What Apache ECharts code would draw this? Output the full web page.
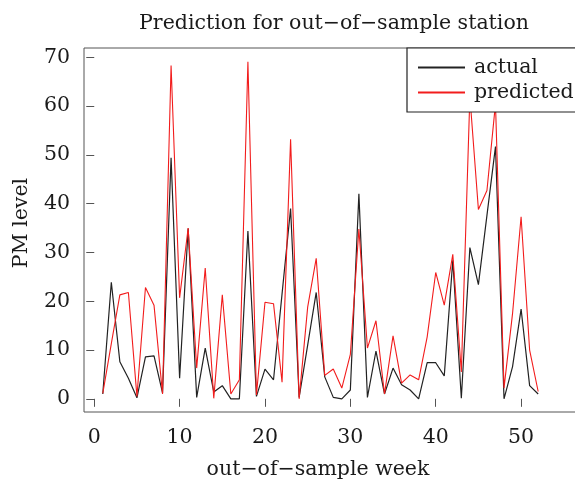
<!DOCTYPE html>
<html>
<head>
<meta charset="utf-8">
<script src="https://cdn.jsdelivr.net/npm/echarts@6/dist/echarts.min.js"></script>
<style>
  html, body { margin: 0; padding: 0; background: #fff; overflow: hidden; }
  /* wider than the window: the right side of the box and legend is cut off, as in the original */
  #chart { width: 620px; height: 483px; }
</style>
</head>
<body>
<div id="chart"></div>
<script>
// weeks of the out-of-sample year
var weeks = [1, 2, 3, 4, 5, 6, 7, 8, 9, 10, 11, 12, 13, 14, 15, 16, 17, 18, 19, 20,
  21, 22, 23, 24, 25, 26, 27, 28, 29, 30, 31, 32, 33, 34, 35, 36, 37, 38, 39, 40,
  41, 42, 43, 44, 45, 46, 47, 48, 49, 50, 51, 52];
var actual = [1.0, 23.9, 7.6, 4.2, 0.2, 8.6, 8.8, 1.2, 49.4, 4.2,
  34.9, 0.3, 10.4, 1.4, 2.7, 0, 0, 34.4, 0.5, 6.1,
  3.9, 21.5, 39.0, 0.3, 11.0, 21.8, 4.5, 0.3, 0, 1.8,
  42.0, 0.3, 9.8, 1.0, 6.3, 2.9, 1.8, 0, 7.4, 7.4,
  4.7, 28.4, 0.1, 31.0, 23.4, 37.6, 51.7, 0, 6.6, 18.4, 2.7, 1.0];
var predicted = [1.1, 11.3, 21.3, 21.8, 0.5, 22.8, 19.2, 1.0, 68.3, 20.7,
  35.0, 6.3, 26.8, 0.1, 21.3, 1.0, 3.9, 69.1, 0.8, 19.8,
  19.5, 3.4, 53.2, 0, 18.8, 28.8, 4.8, 6.1, 2.2, 9.1,
  34.8, 10.4, 16.0, 1.0, 12.9, 3.2, 4.9, 3.9, 12.7, 25.9,
  19.2, 29.6, 5.5, 62.0, 38.8, 42.7, 60.5, 2.2, 17.5, 37.3, 10.0, 1.5];
var xTicks = [0, 10, 20, 30, 40, 50];
var yTicks = [0, 10, 20, 30, 40, 50, 60, 70];

var font = 'DejaVu Serif';
var ink = '#1a1a1a';

function pairs(vals) {
  return weeks.map(function (w, i) { return [w, vals[i]]; });
}

var mychart = echarts.init(document.getElementById('chart'));
var option = {
  animation: false,
  backgroundColor: '#fff',
  grid: {
    left: 84, right: 40, top: 48, bottom: 71,
    show: true,
    borderColor: '#555',
    borderWidth: 1
  },
  xAxis: {
    type: 'value',
    min: -1.2,
    max: 56.9,
    splitLine: { show: false },
    axisLine: { show: false },
    axisTick: { show: true, customValues: xTicks, length: 8, lineStyle: { color: '#555' } },
    axisLabel: { customValues: xTicks, margin: 15, color: ink, fontFamily: font, fontSize: 20.5 }
  },
  yAxis: {
    type: 'value',
    min: -2.7,
    max: 71.9,
    splitLine: { show: false },
    axisLine: { show: false },
    axisTick: { show: true, customValues: yTicks, length: 8, lineStyle: { color: '#555' } },
    axisLabel: { customValues: yTicks, margin: 14, color: ink, fontFamily: font, fontSize: 20.5 }
  },
  legend: {
    orient: 'vertical',
    left: 407,
    top: 48,
    padding: [9, 60, 9, 11],
    backgroundColor: '#fff',
    borderColor: '#222',
    borderWidth: 1.2,
    borderRadius: 0,
    itemWidth: 47,
    itemHeight: 2,
    itemGap: 4,
    icon: 'rect',
    textStyle: { fontFamily: font, fontSize: 20.5, color: ink, lineHeight: 21, padding: [0, 0, 0, 4] },
    data: ['actual', 'predicted']
  },
  graphic: [
    {
      type: 'text', x: 334, y: 24,
      style: { text: 'Prediction for out\u2212of\u2212sample station', fontFamily: font, fontSize: 20.5,
        fill: ink, textAlign: 'center', textVerticalAlign: 'middle' }
    },
    {
      type: 'text', x: 318, y: 470,
      style: { text: 'out\u2212of\u2212sample week', fontFamily: font, fontSize: 20.5,
        fill: ink, textAlign: 'center', textVerticalAlign: 'middle' }
    },
    {
      type: 'text', x: 22, y: 223, rotation: Math.PI / 2,
      style: { text: 'PM level', fontFamily: font, fontSize: 20.5,
        fill: ink, textAlign: 'center', textVerticalAlign: 'middle' }
    }
  ],
  series: [
    {
      name: 'actual',
      type: 'line',
      data: pairs(actual),
      showSymbol: false,
      symbol: 'none',
      z: 2,
      color: '#222',
      lineStyle: { color: '#222', width: 1.2 }
    },
    {
      name: 'predicted',
      type: 'line',
      data: pairs(predicted),
      showSymbol: false,
      symbol: 'none',
      z: 3,
      color: '#f21c1c',
      lineStyle: { color: '#f21c1c', width: 1.1 }
    }
  ]
};
mychart.setOption(option);
</script>
</body>
</html>
